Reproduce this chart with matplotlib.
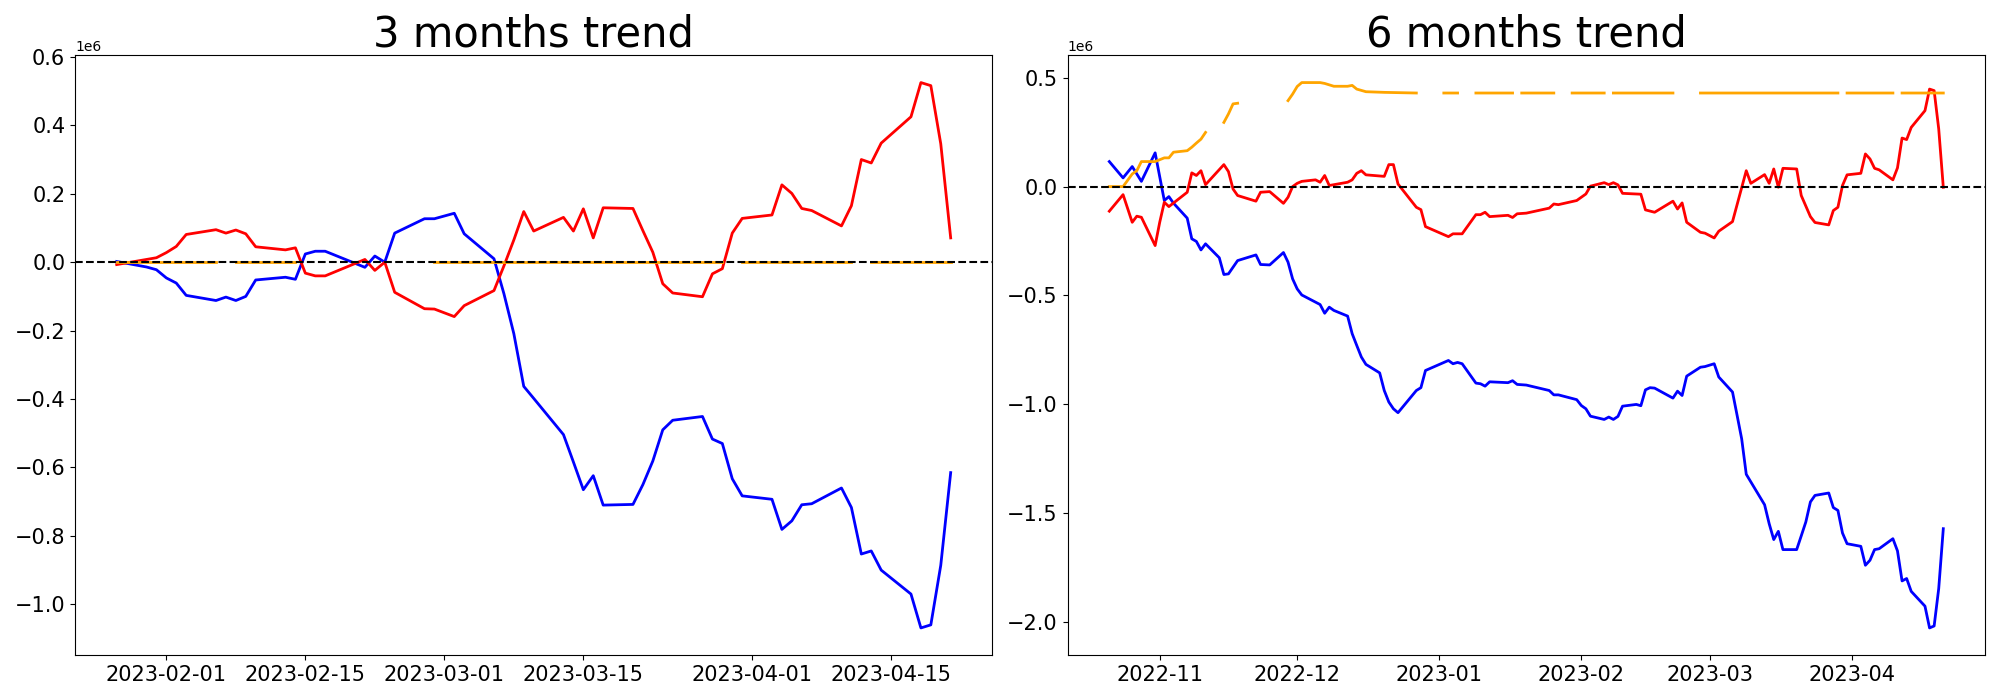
import numpy as np
import pandas as pd
import matplotlib
matplotlib.use("Agg")
import matplotlib.pyplot as plt

nan = np.nan

# ---- 3 months data (values in units of 1e6) ----
dates_3m = ["2023-01-27", "2023-01-30", "2023-01-31", "2023-02-01", "2023-02-02", "2023-02-03",
            "2023-02-06", "2023-02-07", "2023-02-08", "2023-02-09", "2023-02-10",
            "2023-02-13", "2023-02-14", "2023-02-15", "2023-02-16", "2023-02-17",
            "2023-02-21", "2023-02-22", "2023-02-23", "2023-02-24",
            "2023-02-27", "2023-02-28", "2023-03-01", "2023-03-02", "2023-03-03",
            "2023-03-06", "2023-03-07", "2023-03-08", "2023-03-09", "2023-03-10",
            "2023-03-13", "2023-03-14", "2023-03-15", "2023-03-16", "2023-03-17",
            "2023-03-20", "2023-03-21", "2023-03-22", "2023-03-23", "2023-03-24",
            "2023-03-27", "2023-03-28", "2023-03-29", "2023-03-30", "2023-03-31",
            "2023-04-03", "2023-04-04", "2023-04-05", "2023-04-06", "2023-04-07",
            "2023-04-10", "2023-04-11", "2023-04-12", "2023-04-13", "2023-04-14",
            "2023-04-17", "2023-04-18", "2023-04-19", "2023-04-20", "2023-04-21"]
red_3m = [-0.007, 0.008, 0.013, 0.028, 0.046, 0.081,
          0.095, 0.085, 0.094, 0.083, 0.045,
          0.036, 0.042, -0.032, -0.040, -0.040,
          0.008, -0.024, 0.0, -0.088,
          -0.136, -0.137, -0.148, -0.159, -0.127,
          -0.083, -0.011, 0.065, 0.148, 0.091,
          0.131, 0.091, 0.156, 0.071, 0.159,
          0.157, 0.092, 0.029, -0.063, -0.090,
          -0.101, -0.034, -0.019, 0.085, 0.128,
          0.138, 0.226, 0.201, 0.157, 0.151,
          0.106, 0.165, 0.300, 0.290, 0.348,
          0.425, 0.525, 0.516, 0.346, 0.071]
blue_3m = [0.002, -0.014, -0.022, -0.046, -0.061, -0.097,
           -0.112, -0.102, -0.112, -0.100, -0.052,
           -0.044, -0.050, 0.024, 0.032, 0.032,
           -0.015, 0.018, 0.0, 0.085,
           0.127, 0.127, 0.135, 0.143, 0.083,
           0.010, -0.092, -0.209, -0.363, -0.398,
           -0.504, -0.584, -0.665, -0.624, -0.710,
           -0.708, -0.650, -0.581, -0.490, -0.462,
           -0.451, -0.517, -0.530, -0.633, -0.683,
           -0.693, -0.781, -0.756, -0.709, -0.706,
           -0.660, -0.717, -0.853, -0.844, -0.900,
           -0.970, -1.069, -1.060, -0.886, -0.615]
# orange: segment ends, NaN marks a gap
orange_3m_dates = ["2023-01-27", "2023-02-06", "2023-02-07", "2023-02-08", "2023-02-14",
                   "2023-02-15", "2023-02-28", "2023-03-29", "2023-03-30", "2023-03-31",
                   "2023-04-11", "2023-04-12", "2023-04-13", "2023-04-21"]
orange_3m = [0, 0, nan, 0, 0, nan, 0, 0, nan, 0, 0, nan, 0, 0]

# ---- 6 months data ----
red_6m_dates = ["2022-10-21", "2022-10-24", "2022-10-26", "2022-10-27", "2022-10-28", "2022-10-31",
                "2022-11-01", "2022-11-02", "2022-11-03", "2022-11-07", "2022-11-08", "2022-11-09",
                "2022-11-10", "2022-11-11", "2022-11-15", "2022-11-16", "2022-11-17", "2022-11-18",
                "2022-11-22", "2022-11-23", "2022-11-25", "2022-11-28", "2022-11-29", "2022-11-30",
                "2022-12-01", "2022-12-02", "2022-12-05", "2022-12-06", "2022-12-07", "2022-12-08",
                "2022-12-12", "2022-12-13", "2022-12-14", "2022-12-15", "2022-12-16", "2022-12-20",
                "2022-12-21", "2022-12-22", "2022-12-23", "2022-12-27", "2022-12-28", "2022-12-29",
                "2023-01-03", "2023-01-04", "2023-01-06", "2023-01-09", "2023-01-10", "2023-01-11",
                "2023-01-12", "2023-01-16", "2023-01-17", "2023-01-18", "2023-01-20", "2023-01-25",
                "2023-01-26", "2023-01-27", "2023-01-31", "2023-02-02", "2023-02-03", "2023-02-06",
                "2023-02-07", "2023-02-08", "2023-02-09", "2023-02-10", "2023-02-14", "2023-02-15",
                "2023-02-17", "2023-02-21", "2023-02-22", "2023-02-23", "2023-02-24", "2023-02-27",
                "2023-02-28", "2023-03-02", "2023-03-03", "2023-03-06", "2023-03-09", "2023-03-10",
                "2023-03-13", "2023-03-14", "2023-03-15", "2023-03-16", "2023-03-17", "2023-03-20",
                "2023-03-21", "2023-03-23", "2023-03-24", "2023-03-27", "2023-03-28", "2023-03-29",
                "2023-03-30", "2023-03-31", "2023-04-03", "2023-04-04", "2023-04-05", "2023-04-06",
                "2023-04-07", "2023-04-10", "2023-04-11", "2023-04-12", "2023-04-13", "2023-04-14",
                "2023-04-17", "2023-04-18", "2023-04-19", "2023-04-20", "2023-04-21"]
red_6m = [-0.113, -0.037, -0.164, -0.136, -0.141, -0.271,
          -0.164, -0.072, -0.092, -0.026, 0.063, 0.051,
          0.073, 0.009, 0.101, 0.069, -0.011, -0.041,
          -0.067, -0.026, -0.023, -0.077, -0.049, 0.0,
          0.015, 0.024, 0.031, 0.020, 0.051, 0.005,
          0.020, 0.031, 0.061, 0.073, 0.054, 0.047,
          0.101, 0.101, 0.012, -0.095, -0.106, -0.184,
          -0.230, -0.217, -0.217, -0.129, -0.129, -0.118,
          -0.138, -0.132, -0.142, -0.125, -0.122, -0.099,
          -0.080, -0.083, -0.064, -0.034, 0.002, 0.018,
          0.009, 0.018, 0.008, -0.031, -0.035, -0.107,
          -0.118, -0.067, -0.103, -0.075, -0.164, -0.210,
          -0.214, -0.236, -0.205, -0.161, 0.073, 0.015,
          0.055, 0.015, 0.081, -0.003, 0.084, 0.081,
          -0.041, -0.138, -0.165, -0.176, -0.110, -0.095,
          0.005, 0.054, 0.061, 0.150, 0.127, 0.084,
          0.077, 0.031, 0.086, 0.223, 0.216, 0.272,
          0.349, 0.448, 0.441, 0.265, -0.003]

blue_6m_dates = ["2022-10-21", "2022-10-24", "2022-10-26", "2022-10-28", "2022-10-31",
                 "2022-11-02", "2022-11-03", "2022-11-04", "2022-11-07", "2022-11-08", "2022-11-09",
                 "2022-11-10", "2022-11-11", "2022-11-14", "2022-11-15", "2022-11-16", "2022-11-18",
                 "2022-11-22", "2022-11-23", "2022-11-25", "2022-11-28", "2022-11-29", "2022-11-30",
                 "2022-12-01", "2022-12-02", "2022-12-06", "2022-12-07", "2022-12-08", "2022-12-09",
                 "2022-12-12", "2022-12-13", "2022-12-14", "2022-12-15", "2022-12-16", "2022-12-19",
                 "2022-12-20", "2022-12-21", "2022-12-22", "2022-12-23", "2022-12-27", "2022-12-28",
                 "2022-12-29", "2023-01-03", "2023-01-04", "2023-01-05", "2023-01-06", "2023-01-09",
                 "2023-01-10", "2023-01-11", "2023-01-12", "2023-01-16", "2023-01-17", "2023-01-18",
                 "2023-01-20", "2023-01-25", "2023-01-26", "2023-01-27", "2023-01-31", "2023-02-01",
                 "2023-02-02", "2023-02-03", "2023-02-06", "2023-02-07", "2023-02-08", "2023-02-09",
                 "2023-02-10", "2023-02-13", "2023-02-14", "2023-02-15", "2023-02-16", "2023-02-17",
                 "2023-02-21", "2023-02-22", "2023-02-23", "2023-02-24", "2023-02-27", "2023-02-28",
                 "2023-03-02", "2023-03-03", "2023-03-06", "2023-03-07", "2023-03-08", "2023-03-09",
                 "2023-03-13", "2023-03-14", "2023-03-15", "2023-03-16", "2023-03-17", "2023-03-20",
                 "2023-03-21", "2023-03-22", "2023-03-23", "2023-03-24", "2023-03-27", "2023-03-28",
                 "2023-03-29", "2023-03-30", "2023-03-31", "2023-04-03", "2023-04-04", "2023-04-05",
                 "2023-04-06", "2023-04-07", "2023-04-10", "2023-04-11", "2023-04-12", "2023-04-13",
                 "2023-04-14", "2023-04-17", "2023-04-18", "2023-04-19", "2023-04-20", "2023-04-21"]
blue_6m = [0.115, 0.040, 0.092, 0.024, 0.155,
           -0.064, -0.046, -0.076, -0.145, -0.240, -0.252,
           -0.291, -0.263, -0.327, -0.404, -0.401, -0.340,
           -0.314, -0.358, -0.360, -0.303, -0.347, -0.424,
           -0.470, -0.498, -0.542, -0.582, -0.554, -0.569,
           -0.595, -0.676, -0.730, -0.783, -0.817, -0.856,
           -0.937, -0.990, -1.021, -1.039, -0.937, -0.924,
           -0.845, -0.799, -0.814, -0.808, -0.814, -0.903,
           -0.906, -0.917, -0.897, -0.901, -0.892, -0.909,
           -0.912, -0.937, -0.957, -0.957, -0.979, -1.006,
           -1.021, -1.055, -1.070, -1.059, -1.070, -1.056,
           -1.009, -1.001, -1.007, -0.934, -0.924, -0.926,
           -0.972, -0.940, -0.960, -0.871, -0.830, -0.827,
           -0.814, -0.875, -0.944, -1.051, -1.159, -1.322,
           -1.462, -1.549, -1.622, -1.584, -1.668, -1.668,
           -1.605, -1.541, -1.449, -1.419, -1.408, -1.475,
           -1.488, -1.592, -1.641, -1.653, -1.740, -1.717,
           -1.668, -1.664, -1.618, -1.674, -1.812, -1.801,
           -1.860, -1.928, -2.028, -2.019, -1.847, -1.572]

orange_6m_dates = ["2022-10-21", "2022-10-24", "2022-10-26", "2022-10-27", "2022-10-28", "2022-10-31",
                   "2022-11-02", "2022-11-03", "2022-11-04", "2022-11-07", "2022-11-08", "2022-11-09",
                   "2022-11-10", "2022-11-11", "2022-11-14", "2022-11-15", "2022-11-16", "2022-11-17",
                   "2022-11-18", "2022-11-21", "2022-11-29", "2022-11-30", "2022-12-01", "2022-12-02",
                   "2022-12-06", "2022-12-07", "2022-12-09", "2022-12-12", "2022-12-13", "2022-12-14",
                   "2022-12-16", "2022-12-20", "2022-12-27", "2022-12-28",
                   "2023-01-02", "2023-01-05", "2023-01-06", "2023-01-09", "2023-01-17", "2023-01-18",
                   "2023-01-19", "2023-01-26", "2023-01-27", "2023-01-30", "2023-02-06", "2023-02-07",
                   "2023-02-08", "2023-02-21", "2023-02-22", "2023-02-27", "2023-03-29", "2023-03-30",
                   "2023-03-31", "2023-04-10", "2023-04-11", "2023-04-12", "2023-04-21"]
orange_6m = [0.0, 0.0, 0.058, 0.073, 0.115, 0.115,
             0.132, 0.132, 0.158, 0.165, 0.181, 0.200,
             0.218, 0.249, nan, 0.295, 0.334, 0.380,
             0.383, nan, 0.395, 0.425, 0.460, 0.478,
             0.478, 0.474, 0.461, 0.461, 0.465, 0.448,
             0.436, 0.433, 0.430, nan,
             0.430, 0.430, nan, 0.430, 0.430, nan,
             0.430, 0.430, nan, 0.430, 0.430, nan,
             0.430, 0.430, nan, 0.430, 0.430, nan,
             0.430, 0.430, nan, 0.430, 0.430]

scale = 1e6

fig, (ax0, ax1) = plt.subplots(1, 2, figsize=(20, 7), dpi=100)

#---3 months---#
ax0.plot(pd.to_datetime(dates_3m), np.array(blue_3m) * scale, color='blue', lw=2)
ax0.plot(pd.to_datetime(dates_3m), np.array(red_3m) * scale, color='red', lw=2)
ax0.plot(pd.to_datetime(orange_3m_dates), np.array(orange_3m) * scale, color='orange', lw=2)
ax0.axhline(0, color='black', linestyle='--', lw=1.5)
ax0.set_title('3 months trend', fontsize=30)

#---6 months---#
ax1.plot(pd.to_datetime(blue_6m_dates), np.array(blue_6m) * scale, color='blue', lw=2)
ax1.plot(pd.to_datetime(red_6m_dates), np.array(red_6m) * scale, color='red', lw=2)
ax1.plot(pd.to_datetime(orange_6m_dates), np.array(orange_6m) * scale, color='orange', lw=2)
ax1.axhline(0, color='black', linestyle='--', lw=1.5)
ax1.set_title('6 months trend', fontsize=30)

for ax in (ax0, ax1):
    ax.tick_params(labelsize=15)

fig.subplots_adjust(left=0.0375, right=0.9925, bottom=0.064, top=0.921, wspace=0.082)
fig.savefig('out.png', dpi=100)
